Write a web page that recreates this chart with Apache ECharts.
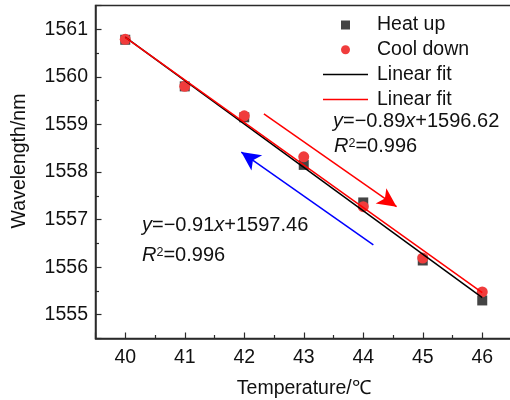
<!DOCTYPE html>
<html>
<head>
<meta charset="utf-8">
<script src="https://cdn.jsdelivr.net/npm/echarts@6/dist/echarts.min.js"></script>
<style>
  html, body { margin: 0; padding: 0; background: #fff; }
  #chart { width: 510px; height: 400px; }
</style>
</head>
<body>
<div id="chart"></div>
<script>
// Temperature steps (°C)
const temperatures = [40, 41, 42, 43, 44, 45, 46];
// Resonance wavelength while heating (nm)
const heatUp = [1560.78, 1559.80, 1559.15, 1558.15, 1557.36, 1556.14, 1555.30];
// Resonance wavelength while cooling (nm)
const coolDown = [1560.79, 1559.80, 1559.18, 1558.32, 1557.27, 1556.19, 1555.48];
// Fit equations shown on the chart
const heatFitText = ['y=−0.91x+1597.46', 'R²=0.996'];
const coolFitText = ['y=−0.89x+1596.62', 'R²=0.996'];

const FONT = "'Liberation Sans', Arial, Helvetica, sans-serif";
const AXIS_COLOR = '#2b2b2b';
const FS = 19.5;

// Ordinary least-squares line through the measured points
function linearFit(xs, ys) {
  const n = xs.length;
  const mx = xs.reduce((a, b) => a + b, 0) / n;
  const my = ys.reduce((a, b) => a + b, 0) / n;
  let sxy = 0, sxx = 0;
  for (let i = 0; i < n; i++) {
    sxy += (xs[i] - mx) * (ys[i] - my);
    sxx += (xs[i] - mx) * (xs[i] - mx);
  }
  const k = sxy / sxx;
  const b = my - k * mx;
  const x0 = xs[0], x1 = xs[n - 1];
  return [[x0, k * x0 + b], [x1, k * x1 + b]];
}

const pairs = (xs, ys) => xs.map((x, i) => [x, ys[i]]);

// Rich-text version of an equation: italic variables, raised exponent
function richEquation(s) {
  return s
    .replace(/^y/, '{i|y}')
    .replace(/(\d)x/, '$1{i|x}')
    .replace(/^R²/, '{i|R}{sup|2}');
}
const eqRich = {
  i: { fontStyle: 'italic', fontSize: 20, fontFamily: FONT, fill: '#111' },
  sup: { fontSize: 12.5, fontFamily: FONT, fill: '#111', verticalAlign: 'top', padding: [1, 0, 0, 0] }
};
function eqText(str, left, top) {
  return {
    type: 'text', left: left, top: top, z: 50,
    style: {
      text: richEquation(str), rich: eqRich,
      fontSize: 20, fontFamily: FONT, fill: '#111'
    }
  };
}

const seriesNames = { heat: 'Heat up', cool: 'Cool down', heatFit: 'heatFit', coolFit: 'coolFit' };
const legendLabels = { heatFit: 'Linear fit', coolFit: 'Linear fit' };
const lineIcon = 'path://M0 0H45V1.5H0Z';

const chart = echarts.init(document.getElementById('chart'), null, { renderer: 'canvas' });

const axisCommon = {
  type: 'value',
  minInterval: 1,
  maxInterval: 1,
  splitNumber: 7,
  axisLine: { show: true, onZero: false, lineStyle: { color: AXIS_COLOR, width: 1.5 } },
  axisTick: { show: true, inside: true, length: 6, lineStyle: { color: AXIS_COLOR, width: 1.2 } },
  minorTick: { show: true, splitNumber: 2, length: 3.5, lineStyle: { color: AXIS_COLOR, width: 1.2 } },
  splitLine: { show: false },
  minorSplitLine: { show: false }
};

chart.setOption({
  animation: false,
  backgroundColor: '#fff',
  grid: {
    left: 95.5, top: 5.5, right: -2, bottom: 61.5,
    outerBoundsMode: 'none', containLabel: false,
    show: true, borderColor: AXIS_COLOR, borderWidth: 1.5, backgroundColor: 'transparent'
  },
  xAxis: Object.assign({}, axisCommon, {
    min: 39.5, max: 46.5,
    name: 'Temperature/℃', nameLocation: 'middle', nameGap: 40,
    nameTextStyle: { fontSize: FS, fontFamily: FONT, color: '#111' },
    axisLabel: {
      fontSize: FS, fontFamily: FONT, color: '#111', margin: 9,
      showMinLabel: false, showMaxLabel: false,
      formatter: v => String(v)
    }
  }),
  yAxis: Object.assign({}, axisCommon, {
    min: 1554.5, max: 1561.5,
    name: 'Wavelength/nm', nameLocation: 'middle', nameGap: 66,
    nameTextStyle: { fontSize: FS, fontFamily: FONT, color: '#111', padding: [0, 0, 0, 22] },
    axisLabel: {
      fontSize: FS, fontFamily: FONT, color: '#111', margin: 7.5,
      showMinLabel: false, showMaxLabel: false,
      formatter: v => String(v)
    }
  }),
  legend: {
    orient: 'vertical',
    left: 323, top: 15, padding: 0,
    itemWidth: 45, itemHeight: 9, itemGap: 4.8,
    textStyle: { fontSize: FS, fontFamily: FONT, color: '#111', padding: [0, 0, 0, 4] },
    formatter: name => legendLabels[name] || name,
    data: [
      { name: seriesNames.heat, icon: 'path://M0 0H10V10H0Z' },
      { name: seriesNames.cool, icon: 'circle' },
      { name: seriesNames.heatFit, icon: lineIcon },
      { name: seriesNames.coolFit, icon: lineIcon }
    ]
  },
  series: [
    {
      name: seriesNames.heat, type: 'scatter',
      symbol: 'rect', symbolSize: 10,
      itemStyle: { color: '#444444', opacity: 1 },
      data: pairs(temperatures, heatUp), z: 2
    },
    {
      name: seriesNames.cool, type: 'scatter',
      symbol: 'circle', symbolSize: 11,
      itemStyle: { color: '#f03c3c', opacity: 1 },
      data: pairs(temperatures, coolDown), z: 3
    },
    {
      name: seriesNames.heatFit, type: 'line',
      symbol: 'none', showSymbol: false,
      lineStyle: { color: '#000000', width: 1.5 },
      itemStyle: { color: '#000000' },
      data: linearFit(temperatures, heatUp), z: 4,
      markLine: {
        silent: true, symbol: ['none', 'arrow'], symbolSize: [14, 19],
        label: { show: false },
        lineStyle: { type: 'solid', width: 1.5 },
        data: [
          // cooling direction
          [
            { coord: [44.17, 1556.47], lineStyle: { color: '#0000ff' }, itemStyle: { color: '#0000ff' } },
            { coord: [41.95, 1558.42], lineStyle: { color: '#0000ff' }, itemStyle: { color: '#0000ff' } }
          ],
          // heating direction
          [
            { coord: [42.33, 1559.22], lineStyle: { color: '#ff0000' }, itemStyle: { color: '#ff0000' } },
            { coord: [44.56, 1557.27], lineStyle: { color: '#ff0000' }, itemStyle: { color: '#ff0000' } }
          ]
        ]
      }
    },
    {
      name: seriesNames.coolFit, type: 'line',
      symbol: 'none', showSymbol: false,
      lineStyle: { color: '#ff0000', width: 1.5 },
      itemStyle: { color: '#ff0000' },
      data: linearFit(temperatures, coolDown), z: 5
    }
  ],
  graphic: [
    eqText(coolFitText[0], 333, 111),
    eqText(coolFitText[1], 334, 136),
    eqText(heatFitText[0], 142, 215),
    eqText(heatFitText[1], 142, 245)
  ]
});
</script>
</body>
</html>
